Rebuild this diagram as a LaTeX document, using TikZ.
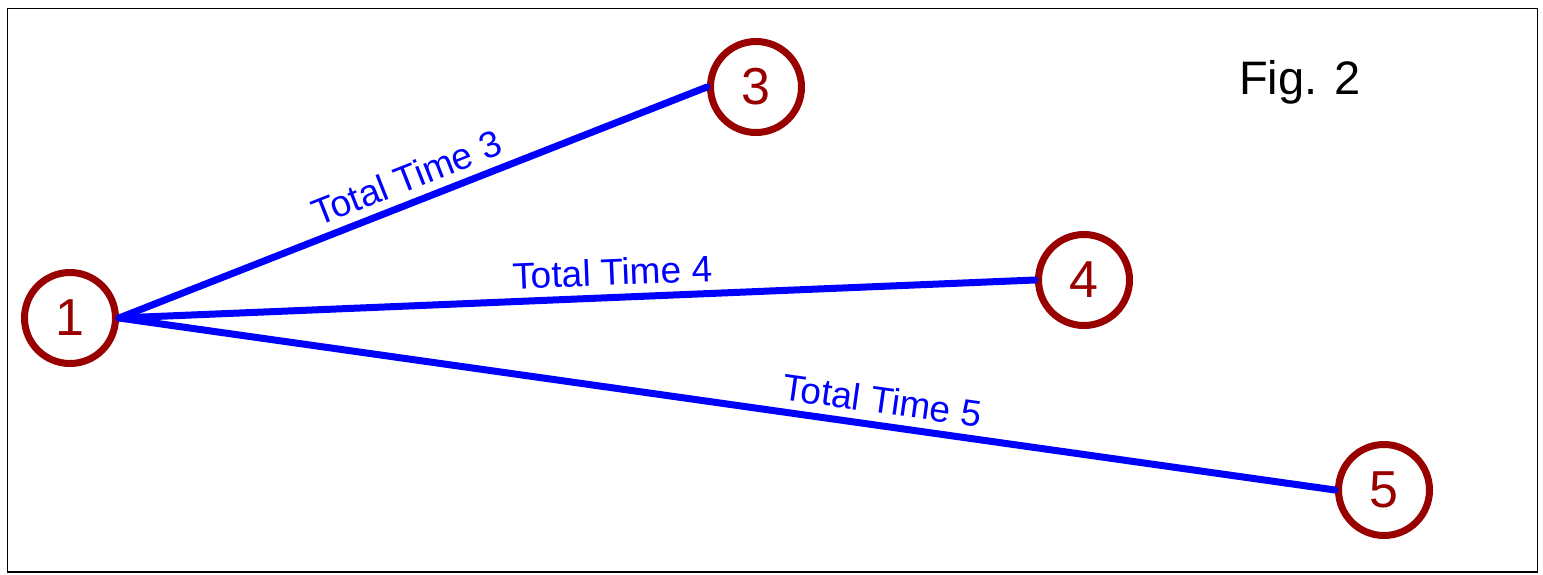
\documentclass[tikz,border=0pt]{standalone}
\usepackage{fontspec}
\setmainfont{Liberation Sans}
\definecolor{nodered}{RGB}{153,0,0}
\definecolor{edgeblue}{RGB}{0,0,255}

\begin{document}
\begin{tikzpicture}[x=1pt,y=-1pt,cap=round,
		place/.style={circle,draw=nodered,line width=7pt,text=nodered,
			minimum size=91pt,inner sep=0pt,font=\fontsize{52}{60}\selectfont},
		link/.style={edgeblue,line width=7pt},
		linktext/.style={text=edgeblue,font=\fontsize{37}{42}\selectfont}]
		\useasboundingbox (0,0) rectangle (1543,574);
		% draw the frame
		\draw[line width=1.5pt] (7.5,8.5) rectangle (1537.5,572);

		% draw the places
		\foreach \n/\x/\y in {1/70/318, 3/756/87, 4/1084/280, 5/1384/490}
			\node[place] (n\n) at (\x,\y) {\n};

		% draw each link with its total time
		\foreach \to/\p in {3/0.505, 4/0.54, 5/0.625}
			\draw[link] (n1.east) -- (n\to.west)
				node[linktext,pos=\p,sloped,above=5pt] {Total Time \to};

		% the figure title
		\node[font=\fontsize{47}{54}\selectfont] (title) at (1300,82) {Fig. 2};
	\end{tikzpicture}
\end{document}
